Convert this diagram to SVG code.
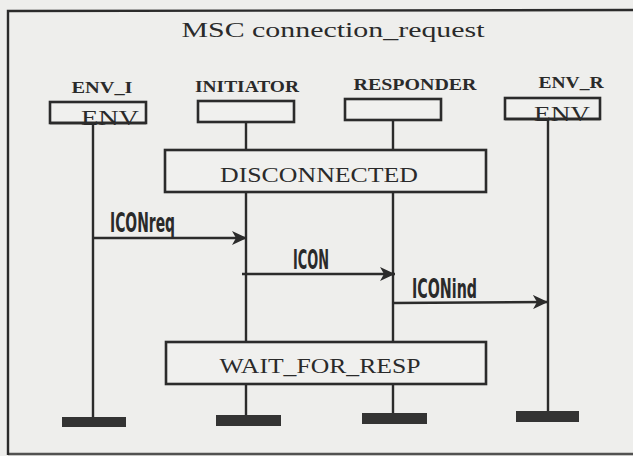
<svg xmlns="http://www.w3.org/2000/svg" width="633" height="456" viewBox="0 0 633 456">
  <style>
    .ln { stroke: #2b2b2b; stroke-width: 2.4; fill: none; }
    .box { stroke: #2b2b2b; stroke-width: 2.6; fill: #f0f0ee; }
    .stop { fill: #333333; }
    .title { font-family: "Liberation Serif", "DejaVu Serif", serif; font-size: 21px; fill: #2a2a2a; }
    .inst { font-family: "Liberation Serif", "DejaVu Serif", serif; font-size: 16px; font-weight: bold; fill: #2a2a2a; }
    .env { font-family: "Liberation Serif", "DejaVu Serif", serif; font-size: 22px; fill: #2a2a2a; }
    .state { font-family: "Liberation Serif", "DejaVu Serif", serif; font-size: 21px; fill: #2a2a2a; }
    .msg { font-family: "DejaVu Sans Condensed", "DejaVu Sans", sans-serif; font-size: 26px; font-weight: bold; fill: #2a2a2a; }
  </style>
  <defs>
    <marker id="arrow" markerWidth="16" markerHeight="14" refX="15" refY="7" orient="auto" markerUnits="userSpaceOnUse">
      <path d="M0,0 L15,7 L0,14 L4,7 Z" fill="#2b2b2b"/>
    </marker>
  </defs>

  <!-- paper -->
  <rect x="0" y="0" width="633" height="456" fill="#eeeeec"/>

  <!-- diagram frame (right edge runs off the sheet) -->
  <g id="frame">
    <path class="ln" d="M8,455 L8,11 L633,10"/>
    <path class="ln" d="M8,454 L633,454" stroke-opacity="0.8"/>
    <text class="title" x="333" y="37" text-anchor="middle" textLength="303" lengthAdjust="spacingAndGlyphs">MSC connection_request</text>
  </g>

  <!-- lifelines and messages -->
  <g id="connectors">
    <line class="ln" x1="93" y1="123" x2="93" y2="418"/>
    <line class="ln" x1="246" y1="122" x2="246" y2="416"/>
    <line class="ln" x1="393" y1="120" x2="393" y2="414"/>
    <line class="ln" x1="548" y1="119" x2="548" y2="412"/>

    <line class="ln" x1="93" y1="238" x2="247" y2="238" marker-end="url(#arrow)"/>
    <line class="ln" x1="242" y1="274" x2="395" y2="274" marker-end="url(#arrow)"/>
    <line class="ln" x1="393" y1="303" x2="548" y2="302" marker-end="url(#arrow)"/>
  </g>

  <!-- instance ENV_I -->
  <g id="env_i">
    <text class="inst" x="102" y="93" text-anchor="middle" textLength="61" lengthAdjust="spacingAndGlyphs">ENV_I</text>
    <rect class="box" x="50" y="102" width="96" height="21"/>
    <text class="env" x="110" y="125" text-anchor="middle" textLength="58" lengthAdjust="spacingAndGlyphs">ENV</text>
    <path class="ln" d="M50,123 L146,123"/>
    <rect class="stop" x="62" y="417" width="64" height="10"/>
  </g>

  <!-- instance INITIATOR -->
  <g id="initiator">
    <text class="inst" x="247" y="92" text-anchor="middle" textLength="104" lengthAdjust="spacingAndGlyphs">INITIATOR</text>
    <rect class="box" x="198" y="101" width="96" height="21"/>
    <rect class="stop" x="216" y="415" width="65" height="11"/>
  </g>

  <!-- instance RESPONDER -->
  <g id="responder">
    <text class="inst" x="415" y="90" text-anchor="middle" textLength="123" lengthAdjust="spacingAndGlyphs">RESPONDER</text>
    <rect class="box" x="345" y="99" width="96" height="21"/>
    <rect class="stop" x="362" y="413" width="65" height="11"/>
  </g>

  <!-- instance ENV_R -->
  <g id="env_r">
    <text class="inst" x="571" y="88" text-anchor="middle" textLength="65" lengthAdjust="spacingAndGlyphs">ENV_R</text>
    <rect class="box" x="505" y="98" width="95" height="21"/>
    <text class="env" x="562" y="121" text-anchor="middle" textLength="56" lengthAdjust="spacingAndGlyphs">ENV</text>
    <path class="ln" d="M505,119 L600,119"/>
    <rect class="stop" x="516" y="411" width="63" height="11"/>
  </g>

  <!-- state DISCONNECTED -->
  <g id="disconnected">
    <rect class="box" x="165" y="150" width="321" height="42"/>
    <text class="state" x="319" y="182" text-anchor="middle" textLength="198" lengthAdjust="spacingAndGlyphs">DISCONNECTED</text>
  </g>

  <!-- state WAIT_FOR_RESP -->
  <g id="wait_for_resp">
    <rect class="box" x="166" y="342" width="320" height="42"/>
    <text class="state" x="320" y="373" text-anchor="middle" textLength="201" lengthAdjust="spacingAndGlyphs">WAIT_FOR_RESP</text>
  </g>

  <!-- message labels -->
  <g id="labels">
    <text class="msg" x="110" y="232" textLength="65" lengthAdjust="spacingAndGlyphs">ICONreq</text>
    <text class="msg" x="293" y="269" textLength="36" lengthAdjust="spacingAndGlyphs">ICON</text>
    <text class="msg" x="412" y="298" textLength="65" lengthAdjust="spacingAndGlyphs">ICONind</text>
  </g>
</svg>
